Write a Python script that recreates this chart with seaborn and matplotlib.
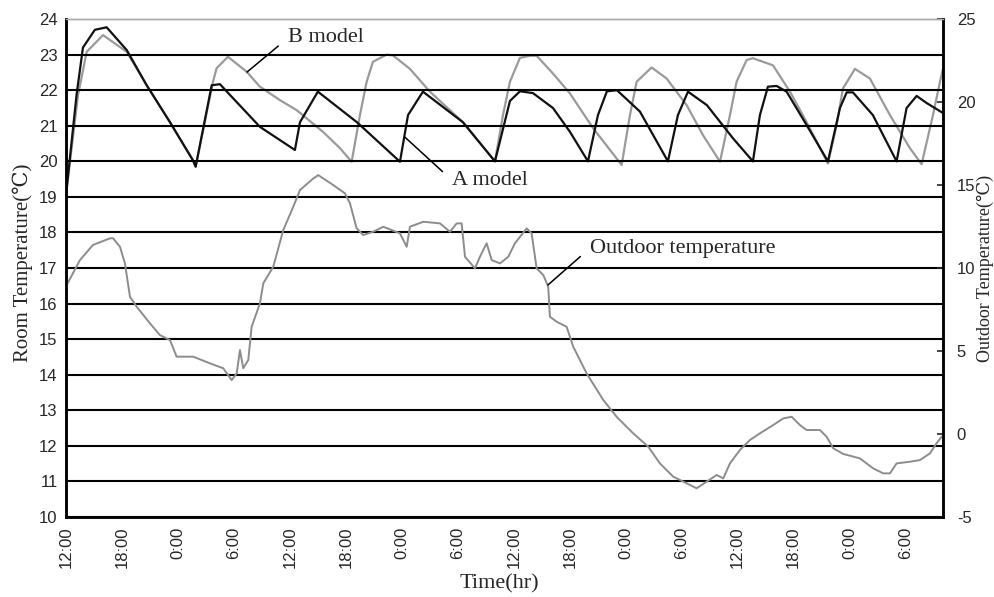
import pandas as pd
import matplotlib
matplotlib.use("Agg")
import matplotlib.pyplot as plt
import seaborn as sns

# hours since the first 12:00
a_hours = [0.0, 1.15, 1.82, 3.1, 4.36, 6.51, 8.65, 11.15, 13.61, 13.9, 15.62, 16.5,
           20.79, 24.54, 25.08, 27.0, 31.19, 35.8, 36.66, 38.26, 42.55, 45.98,
           47.59, 48.66, 50.05, 52.2, 54.02, 55.95, 57.02, 57.98, 59.06, 61.52,
           64.52, 65.59, 66.67, 68.7, 71.49, 73.63, 74.38, 75.24, 76.17, 77.24,
           79.39, 81.67, 82.96, 83.68, 84.35, 86.49, 89.03, 90.1, 91.18, 92.25, 94.0]
a_temp = [19.05, 21.9, 23.2, 23.7, 23.77, 23.13, 22.14, 21.1, 20.03, 19.85, 22.14, 22.17,
          20.97, 20.32, 21.1, 21.96, 21.1, 19.99, 21.3, 21.96, 21.1, 20.0,
          21.7, 21.97, 21.92, 21.5, 20.83, 20.0, 21.3, 21.97, 22.0, 21.4,
          20.0, 21.3, 21.96, 21.58, 20.65, 20.0, 21.3, 22.1, 22.12, 21.96,
          21.02, 20.0, 21.5, 21.94, 21.94, 21.3, 20.0, 21.5, 21.84, 21.64, 21.36]

b_hours = [0.0, 1.29, 2.22, 3.97, 6.51, 8.65, 11.15, 13.61, 13.9, 15.76, 16.15, 17.36,
           19.37, 20.79, 22.94, 24.73, 27.55, 29.37, 30.62, 31.51, 32.23, 32.9,
           34.37, 35.05, 36.87, 39.01, 42.55, 45.98, 46.84, 47.59, 48.66, 49.73,
           50.45, 52.2, 54.02, 56.48, 59.56, 60.45, 61.17, 62.77, 64.38, 66.53,
           68.27, 70.1, 71.17, 71.88, 72.96, 73.63, 75.78, 77.6, 79.39, 81.67,
           82.6, 83.28, 84.57, 86.17, 88.32, 90.46, 91.71, 92.93, 93.68, 94.0]
b_temp = [19.05, 21.86, 23.08, 23.55, 23.08, 22.14, 21.1, 20.03, 19.85, 22.24, 22.62, 22.94,
          22.52, 22.1, 21.72, 21.44, 20.83, 20.37, 19.99, 21.3, 22.24, 22.8,
          23.0, 22.98, 22.6, 21.96, 21.1, 20.0, 21.3, 22.24, 22.91, 22.97,
          22.97, 22.47, 21.91, 20.94, 19.9, 21.3, 22.24, 22.64, 22.33, 21.58,
          20.74, 19.99, 21.3, 22.24, 22.85, 22.9, 22.7, 21.96, 21.1, 19.94,
          21.02, 22.05, 22.6, 22.33, 21.3, 20.37, 19.92, 21.3, 22.24, 22.6]

out_hours = [0.08, 1.5, 2.89, 4.72, 5.04, 5.79, 6.32, 6.86, 7.58, 9.0, 10.07, 11.15,
             11.86, 13.64, 15.43, 16.86, 17.76, 18.3, 18.65, 19.0, 19.54, 19.9,
             20.79, 21.15, 22.22, 23.29, 24.36, 25.08, 26.51, 27.04, 28.65, 29.9,
             30.44, 31.15, 31.86, 32.94, 34.01, 35.8, 36.52, 36.87, 38.3, 40.09,
             41.16, 41.88, 42.41, 42.77, 43.84, 44.37, 45.09, 45.63, 46.52, 47.41,
             48.12, 49.38, 49.91, 50.45, 51.16, 51.69, 51.87, 52.59, 53.66, 54.37,
             55.81, 57.59, 59.02, 60.8, 62.41, 63.66, 65.09, 66.53, 67.6, 68.67,
             69.74, 70.45, 71.17, 72.24, 73.31, 74.38, 75.81, 76.88, 77.78, 78.67,
             79.39, 80.81, 81.53, 82.24, 83.31, 85.1, 86.52, 87.6, 88.32, 89.03,
             90.46, 91.53, 92.6, 93.31, 93.86]
out_temp = [8.98, 10.48, 11.39, 11.79, 11.8, 11.28, 10.28, 8.27, 7.67, 6.67, 5.96, 5.66,
            4.66, 4.66, 4.26, 3.96, 3.25, 3.65, 5.06, 3.96, 4.46, 6.46,
            7.87, 9.08, 10.08, 12.29, 13.69, 14.7, 15.4, 15.6, 15.0, 14.5,
            13.9, 12.4, 11.99, 12.19, 12.49, 12.09, 11.28, 12.49, 12.79, 12.69,
            12.19, 12.69, 12.69, 10.68, 9.98, 10.68, 11.49, 10.48, 10.28, 10.68,
            11.49, 12.39, 12.09, 9.98, 9.58, 8.88, 7.07, 6.77, 6.46, 5.26,
            3.65, 2.05, 1.04, 0.04, -0.76, -1.77, -2.57, -2.97, -3.27, -2.87,
            -2.47, -2.67, -1.77, -0.96, -0.36, 0.04, 0.54, 0.94, 1.04, 0.54,
            0.24, 0.24, -0.16, -0.86, -1.2, -1.47, -2.07, -2.37, -2.37, -1.77,
            -1.67, -1.57, -1.17, -0.56, -0.16]

tick_hours = list(range(0, 91, 6))
tick_labels = ["12:00", "18:00", "0:00", "6:00"] * 4
room_ticks = list(range(10, 25))
out_ticks = list(range(-5, 26, 5))

sns.set_style("white")
serif = ["Liberation Serif", "DejaVu Serif"]
sans = ["Liberation Sans", "DejaVu Sans"]
plt.rcParams["font.family"] = sans
plt.rcParams["axes.unicode_minus"] = False

fig = plt.figure(figsize=(9.95, 5.97), dpi=100)
ax = fig.add_axes([0.0663, 0.134, 0.8814, 0.834])
ax2 = ax.twinx()

df_a = pd.DataFrame({"hours": a_hours, "temp": a_temp})
df_b = pd.DataFrame({"hours": b_hours, "temp": b_temp})
df_out = pd.DataFrame({"hours": out_hours, "temp": out_temp})

sns.lineplot(data=df_b, x="hours", y="temp", ax=ax, color="#9a9a9a", lw=1.6,
             estimator=None, sort=False)
sns.lineplot(data=df_a, x="hours", y="temp", ax=ax, color="#111111", lw=1.6,
             estimator=None, sort=False)
sns.lineplot(data=df_out, x="hours", y="temp", ax=ax2, color="#8c8c8c", lw=1.4,
             estimator=None, sort=False)

ax.set_xlim(0, 94)
ax.set_ylim(10, 24)
ax2.set_ylim(-5, 25)
ax.set_yticks(room_ticks)
ax2.set_yticks(out_ticks)
ax.set_xticks(tick_hours)
ax.set_xticklabels(tick_labels, rotation=90, fontsize=12)
ax.tick_params(axis="y", length=0, labelsize=12, pad=6)
ax.tick_params(axis="x", length=0, pad=7)
ax2.tick_params(axis="y", direction="in", length=4, width=1.2, labelsize=12, pad=10)

ax.yaxis.grid(True, color="black", lw=1.5)
ax.get_ygridlines()[-1].set_visible(False)
ax.set_axisbelow(False)

for a in (ax, ax2):
    for side in ("left", "bottom", "right"):
        a.spines[side].set_color("black")
        a.spines[side].set_linewidth(1.8)
    a.spines["top"].set_color("#aaaaaa")
    a.spines["top"].set_linewidth(1.0)

ax.set_xlabel("Time(hr)", fontsize=16, family=serif)
ax.set_ylabel("Room Temperature(℃)", fontsize=15, family=serif)
ax2.set_ylabel("Outdoor Temperature(℃)", fontsize=13, family=serif)
ax.xaxis.set_label_coords(0.494, -0.114)
ax.yaxis.set_label_coords(-0.038, 0.51)
ax2.yaxis.set_label_coords(1.038, 0.5)

line = dict(arrowstyle="-", color="black", lw=1.1, shrinkA=6, shrinkB=0, relpos=(0, 0.5))
ax.annotate("B model", xy=(19.4, 22.51), xytext=(23.8, 23.47), fontsize=16,
            family=serif, ha="left", va="center", arrowprops=line)
ax.annotate("A model", xy=(36.33, 20.68), xytext=(41.37, 19.47), fontsize=16,
            family=serif, ha="left", va="center", arrowprops=line)
ax2.annotate("Outdoor temperature", xy=(51.66, 8.98), xytext=(56.16, 11.2), fontsize=16,
             family=serif, ha="left", va="center", arrowprops=line)

fig.savefig("out.png", dpi=100)
